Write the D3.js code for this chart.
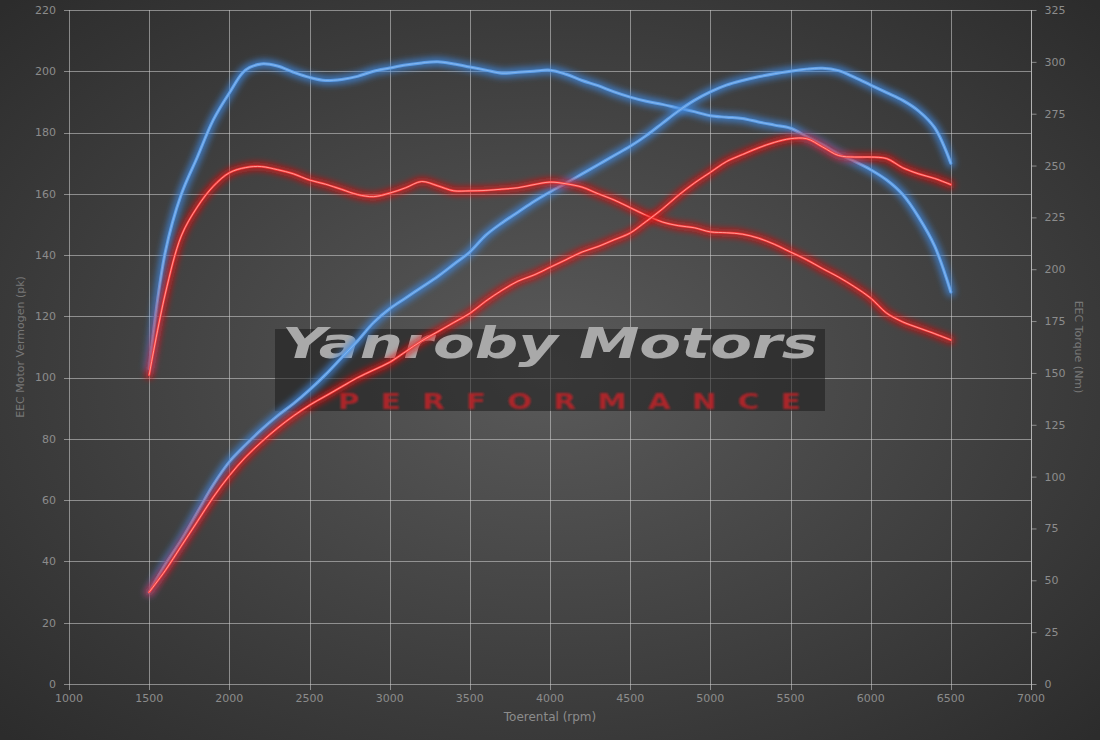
<!DOCTYPE html>
<html>
<head>
<meta charset="utf-8">
<title>Yanroby Motors dyno</title>
<script src="https://d3js.org/d3.v7.min.js"></script>
<style>
  html, body { margin: 0; padding: 0; background: #333; }
  svg { display: block; font-family: "DejaVu Sans", sans-serif; }
</style>
</head>
<body>
<svg width="1100" height="740"></svg>
<script>
// toerental (rpm)
const rpm = d3.range(1500, 6501, 100);

// vermogen in pk (left axis)
const tunedPower = [30, 39, 47, 56, 65, 72.5, 78, 83, 87.5, 91.5,
  96, 101, 106.5, 112, 118, 122.5, 126, 129.5, 133, 137,
  141, 146.5, 150.5, 154, 157.5, 160.6, 163.5, 166.5, 169.5, 172.5,
  175.5, 179, 183, 187, 190.5, 193.3, 195.5, 197, 198.2, 199.2,
  200, 200.7, 201, 200.2, 198, 195.5, 193, 190.5, 187, 181.5, 170];
const stockPower = [30, 37, 45, 53, 61, 68, 74, 79, 83.5, 87.5,
  91, 94, 97, 100, 102.5, 105, 108.5, 112, 115, 118,
  121, 125, 128.5, 131.5, 133.5, 136, 138.5, 141, 142.8, 145,
  147.2, 151, 155, 159.5, 163.5, 167, 170.5, 172.8, 175, 176.8,
  178, 178, 175.3, 172.5, 172, 172, 171.5, 168.5, 166.5, 165, 163];

// koppel in Nm (right axis)
const tunedTorque = [152, 208, 236, 254, 272, 285, 296, 299, 298, 295,
  292.5, 291, 291.5, 293, 295.5, 297, 298.5, 299.5, 300, 299,
  297.5, 296, 294.5, 295, 295.5, 296, 294, 291, 288.5, 285.5,
  283, 281, 279.5, 277.7, 276, 274, 273.3, 272.7, 271, 269.5,
  268, 264, 260, 255.5, 252, 248, 243, 236, 225, 211, 189];
const stockTorque = [149, 188, 216, 230, 240, 246.5, 249, 249.5, 248, 246,
  243, 241, 238.5, 236, 235, 236.7, 239.3, 242.3, 240.2, 237.8,
  237.8, 238, 238.6, 239.3, 240.8, 242, 241.2, 239.6, 236.4, 233.4,
  229.7, 226, 222.8, 221, 220, 218, 217.6, 216.9, 215, 212,
  208.3, 204.6, 200.3, 196.2, 191.5, 186.1, 178.8, 174.6, 171.7, 168.9, 165.9];

const xTicks = d3.range(1000, 7001, 500);
const pkTicks = d3.range(0, 221, 20);
const nmTicks = d3.range(0, 326, 25);

const svg = d3.select("svg"),
      width = +svg.attr("width"),
      height = +svg.attr("height"),
      margin = {top: 10, right: 69, bottom: 56, left: 69};

const x = d3.scaleLinear().domain([1000, 7000]).range([margin.left, width - margin.right]);
const yPk = d3.scaleLinear().domain([0, 220]).range([height - margin.bottom, margin.top]);
const yNm = d3.scaleLinear().domain([0, 325]).range([height - margin.bottom, margin.top]);

const defs = svg.append("defs");
const bg = defs.append("radialGradient").attr("id", "bg")
  .attr("cx", "50%").attr("cy", "50%").attr("r", "70%");
bg.append("stop").attr("offset", "0%").attr("stop-color", "#5a5a5a");
bg.append("stop").attr("offset", "100%").attr("stop-color", "#2c2c2c");

const glow = defs.append("filter").attr("id", "glow")
  .attr("x", "-10%").attr("y", "-10%").attr("width", "120%").attr("height", "120%");
glow.append("feGaussianBlur").attr("stdDeviation", 3);

const soft = defs.append("filter").attr("id", "soft");
soft.append("feGaussianBlur").attr("stdDeviation", 1.1);

svg.append("rect").attr("width", width).attr("height", height).attr("fill", "url(#bg)");

const gridColor = "rgba(210,210,210,0.55)";
const plotTop = margin.top, plotBottom = height - margin.bottom;
const plotLeft = margin.left, plotRight = width - margin.right;

// horizontal grid + left labels
svg.append("g").selectAll("line").data(pkTicks).join("line")
  .attr("x1", plotLeft - 5).attr("x2", plotRight)
  .attr("y1", d => Math.round(yPk(d)) + 0.5).attr("y2", d => Math.round(yPk(d)) + 0.5)
  .attr("stroke", gridColor);
svg.append("g").selectAll("text").data(pkTicks).join("text")
  .attr("x", plotLeft - 13).attr("y", d => yPk(d)).attr("dy", "0.35em")
  .attr("text-anchor", "end").attr("fill", "#8c8c8c").attr("font-size", 11)
  .text(d => d);

// vertical grid + bottom labels
svg.append("g").selectAll("line").data(xTicks).join("line")
  .attr("x1", d => Math.round(x(d)) + 0.5).attr("x2", d => Math.round(x(d)) + 0.5)
  .attr("y1", plotTop).attr("y2", plotBottom + 6)
  .attr("stroke", gridColor);
svg.append("g").selectAll("text").data(xTicks).join("text")
  .attr("x", d => x(d)).attr("y", plotBottom + 18)
  .attr("text-anchor", "middle").attr("fill", "#8c8c8c").attr("font-size", 11)
  .text(d => d);

// right axis (torque)
const rAxis = svg.append("g").attr("transform", `translate(${Math.round(plotRight) + 0.5},0)`)
  .call(d3.axisRight(yNm).tickValues(nmTicks).tickSize(5).tickPadding(8));
rAxis.select(".domain").attr("stroke", gridColor).attr("d", `M0,${plotTop}V${plotBottom + 6}`);
rAxis.selectAll(".tick line").attr("stroke", gridColor);
rAxis.selectAll(".tick text").attr("fill", "#8c8c8c").attr("font-size", 11)
  .attr("font-family", "DejaVu Sans, sans-serif");

// axis titles
svg.append("text").attr("transform", `translate(24,${(plotTop + plotBottom) / 2}) rotate(-90)`)
  .attr("text-anchor", "middle").attr("fill", "#777").attr("font-size", 11)
  .text("EEC Motor Vermogen (pk)");
svg.append("text").attr("transform", `translate(1075,${(plotTop + plotBottom) / 2}) rotate(90)`)
  .attr("text-anchor", "middle").attr("fill", "#777").attr("font-size", 11)
  .text("EEC Torque (Nm)");
svg.append("text").attr("x", (plotLeft + plotRight) / 2).attr("y", plotBottom + 37)
  .attr("text-anchor", "middle").attr("fill", "#8c8c8c").attr("font-size", 12)
  .text("Toerental (rpm)");

// logo
const logo = svg.append("g");
logo.append("rect").attr("x", 275).attr("y", 329).attr("width", 550).attr("height", 82)
  .attr("fill", "rgba(28,28,28,0.55)");
logo.append("text").attr("x", 550).attr("y", 358).attr("text-anchor", "middle")
  .attr("font-family", "Verdana, 'DejaVu Sans', sans-serif").attr("font-weight", "bold")
  .attr("font-style", "italic").attr("font-size", 42).attr("fill", "#a9a9a9")
  .attr("textLength", 536).attr("lengthAdjust", "spacingAndGlyphs")
  .text("Yanroby Motors");
logo.append("text").attr("x", 338).attr("y", 409)
  .attr("font-family", "'DejaVu Sans', sans-serif").attr("font-weight", "bold")
  .attr("font-size", 22).attr("letter-spacing", 16)
  .attr("fill", "#b8232a").attr("fill-opacity", 0.9)
  .attr("filter", "url(#soft)")
  .attr("textLength", 484).attr("lengthAdjust", "spacingAndGlyphs")
  .text("PERFORMANCE");

// curves
const series = [
  {values: tunedTorque, y: yNm, glow: "#3f88e0", core: "#5f9fe8", hi: "#8dbbef", w: 3},
  {values: tunedPower, y: yPk, glow: "#3f88e0", core: "#5f9fe8", hi: "#8dbbef", w: 3},
  {values: stockTorque, y: yNm, glow: "#e81010", core: "#ff3c3c", hi: "#ffb0a8", w: 2.2},
  {values: stockPower, y: yPk, glow: "#e81010", core: "#ff3c3c", hi: "#ffb0a8", w: 2.2}
];

series.forEach(s => {
  const line = d3.line()
    .x((d, i) => x(rpm[i]))
    .y(d => s.y(d))
    .curve(d3.curveCatmullRom.alpha(0.5));
  const g = svg.append("g");
  g.append("path").attr("d", line(s.values)).attr("fill", "none")
    .attr("stroke", s.glow).attr("stroke-width", s.w + 6).attr("stroke-opacity", 0.75)
    .attr("stroke-linecap", "round").attr("filter", "url(#glow)");
  g.append("path").attr("d", line(s.values)).attr("fill", "none")
    .attr("stroke", s.core).attr("stroke-width", s.w).attr("stroke-linecap", "round");
  g.append("path").attr("d", line(s.values)).attr("fill", "none")
    .attr("stroke", s.hi).attr("stroke-width", 0.8).attr("stroke-linecap", "round");
});
</script>
</body>
</html>
